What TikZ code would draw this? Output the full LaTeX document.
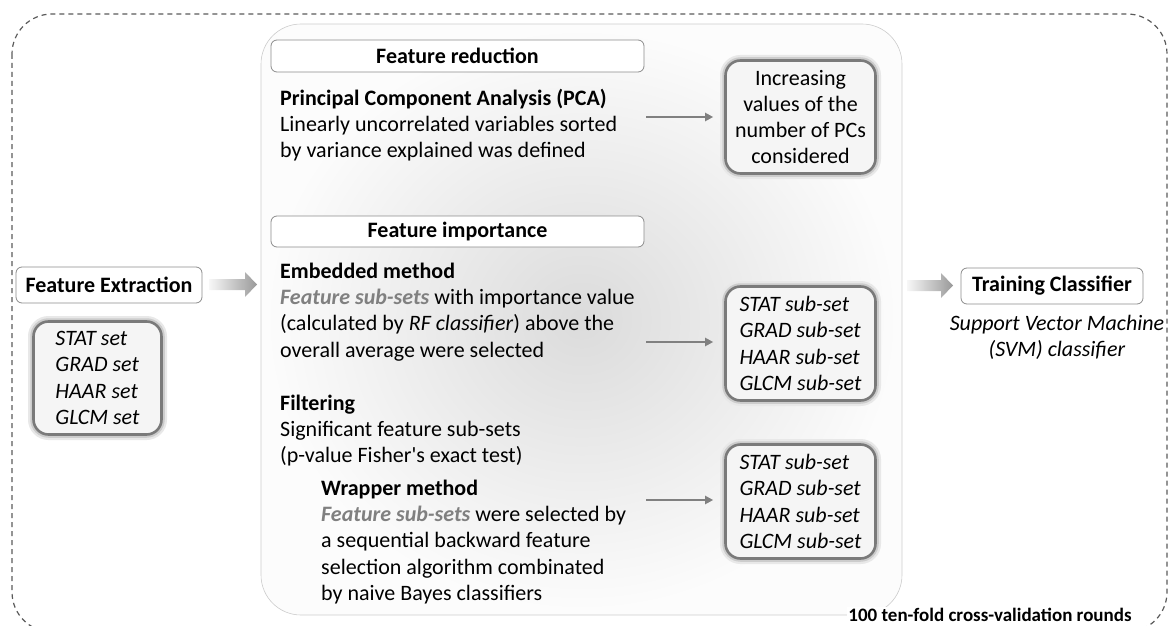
\documentclass[tikz,border=0pt]{standalone}
\usepackage{fontspec}
\setmainfont{Carlito}
\usetikzlibrary{arrows.meta,shadings}
\definecolor{txtgray}{HTML}{808080}
\definecolor{arrowgray}{HTML}{808080}
\definecolor{dashgray}{HTML}{5A5A5A}
\newcommand{\fsub}{\textcolor{txtgray}{\textbf{\textit{Feature sub-sets}}}}
\begin{document}
\begin{tikzpicture}[x=1pt,y=-1pt,
  every node/.style={font=\fontsize{22}{26.3}\selectfont},
  outerdash/.style={draw=dashgray, line width=1.2pt, dash pattern=on 5pt off 4pt, rounded corners=40pt},
  innerpanel/.style={draw=black!20, line width=0.6pt, rounded corners=40pt, inner color=black!14, outer color=black!1},
  titlebox/.style={draw=black!45, line width=0.8pt, fill=white, rounded corners=6pt, inner sep=0pt},
  para/.style={anchor=north west, align=left, inner sep=0pt},
  thickbox/.style={draw=black!52, line width=2.6pt, fill=black!4, rounded corners=15pt, inner sep=0pt,
    preaction={draw=black!9, line width=11pt},
    preaction={draw=black!20, line width=6.5pt}},
  thinarrow/.style={draw=arrowgray, line width=2pt, -{Triangle[length=8pt,width=8pt]}, shorten >=11pt},
  blockarrow/.style={left color=black!3, right color=black!40}
]
\useasboundingbox (0,0) rectangle (1173,626);
% outer dashed frame
\begin{scope}
\clip (0,0) rectangle (1173,626);
\path[outerdash] (12,14) rectangle (1167,632);
\end{scope}
% inner panel
\path[innerpanel] (261,24) rectangle (902,615);

% titles in panel
\node[titlebox, minimum width=373pt, minimum height=32pt] (fr) at (457.5,56) {\textbf{Feature reduction}};
\node[titlebox, minimum width=373pt, minimum height=31pt] (fi) at (457.5,231.5) {\textbf{Feature importance}};

% paragraphs (north = first baseline - 18.4)
\node[para] (pca) at (280,86.6) {\strut\textbf{Principal Component Analysis (PCA)}\\Linearly uncorrelated variables sorted\\by variance explained was defined};
\node[para] (emb) at (280,259.6) {\strut\textbf{Embedded method}\\\fsub{} with importance value\\(calculated by \textit{RF classifier}) above the\\overall average were selected};
\node[para] (filt) at (280,391.6) {\strut\textbf{Filtering}\\Significant feature sub-sets\\(p-value Fisher\textquotesingle s exact test)};
\node[para] (wrap) at (321,476.6) {\strut\textbf{Wrapper method}\\\fsub{} were selected by\\a sequential backward feature\\selection algorithm combinated\\by naive Bayes classifiers};

% right boxes
\node[thickbox, minimum width=150pt, minimum height=113pt, align=center] (pcs) at (800.5,117) {Increasing\\values of the\\number of PCs\\considered};
\node[thickbox, minimum width=150pt, minimum height=114pt, align=left] (sub1) at (800.5,343.5) {\textit{STAT sub-set}\\\textit{GRAD sub-set}\\\textit{HAAR sub-set}\\\textit{GLCM sub-set}};
\node[thickbox, minimum width=150pt, minimum height=114pt, align=left] (sub2) at (800.5,501.5) {\textit{STAT sub-set}\\\textit{GRAD sub-set}\\\textit{HAAR sub-set}\\\textit{GLCM sub-set}};

% thin arrows
\coordinate (a1) at (646,117);
\coordinate (a2) at (646,342);
\coordinate (a3) at (646,500);
\draw[thinarrow] (a1) -- (a1 -| pcs.west);
\draw[thinarrow] (a2) -- (a2 -| sub1.west);
\draw[thinarrow] (a3) -- (a3 -| sub2.west);

% left side
\node[titlebox, minimum width=186pt, minimum height=36pt] (fe) at (109,285) {\textbf{Feature Extraction}};
\node[thickbox, minimum width=128pt, minimum height=113pt, align=left] (sets) at (97.5,378) {\textit{STAT set}\\\textit{GRAD set}\\\textit{HAAR set}\\\textit{GLCM set}};

% right side
\node[titlebox, minimum width=182pt, minimum height=36pt] (tc) at (1052,286) {\textbf{Training Classifier}};
\node[anchor=north, align=center, inner sep=0pt] (svm) at (1057,311.6) {\strut\textit{Support Vector Machine}\\\textit{(SVM) classifier}};

% block arrows
\path[blockarrow] (209,279) -- (245,279) -- (245,272) -- (257,284.5) -- (245,297) -- (245,290) -- (209,290) -- cycle;
\path[blockarrow] (907,280) -- (941,280) -- (941,273) -- (953,285.5) -- (941,298) -- (941,291) -- (907,291) -- cycle;

% cross-validation label
\node[font=\bfseries\fontsize{19}{21}\selectfont, fill=white, inner sep=1pt] (cv) at (990,615) {100 ten-fold cross-validation rounds};
\end{tikzpicture}
\end{document}
